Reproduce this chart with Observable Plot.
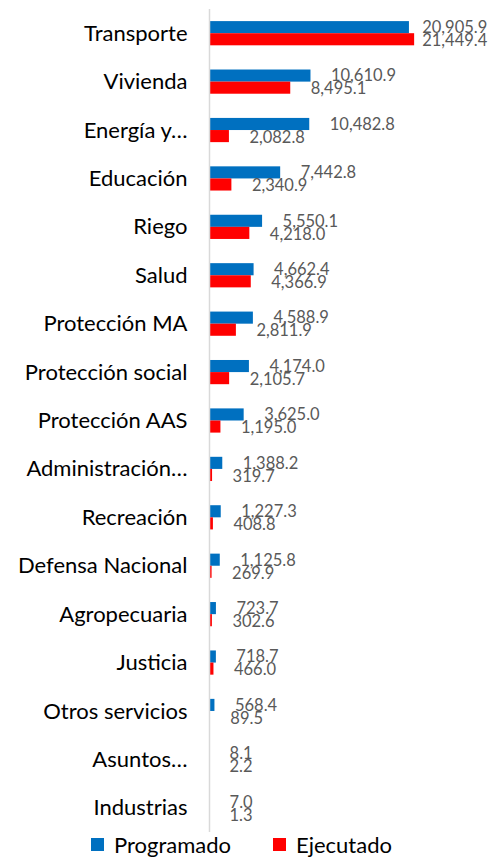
<!DOCTYPE html>
<html><head><meta charset="utf-8">
<script src="https://cdn.jsdelivr.net/npm/d3@7"></script>
<script src="https://cdn.jsdelivr.net/npm/@observablehq/plot@0.6"></script>
<style>
body{margin:0;background:#fff;font-family:Lato,"Open Sans",sans-serif}
#legend{position:relative;height:25px;font-size:22px;color:#000}
#legend .sw{display:inline-block;width:13px;height:13px;margin-right:10px}
#legend .item{display:flex;align-items:center;position:absolute;top:0;height:25px}
</style>
</head><body>
<div id="chart"></div>
<div id="legend"></div>
<script>
const categories = ["Transporte","Vivienda","Energía y…","Educación","Riego","Salud","Protección MA","Protección social","Protección AAS","Administración…","Recreación","Defensa Nacional","Agropecuaria","Justicia","Otros servicios","Asuntos…","Industrias"];
const programado = [20905.9,10610.9,10482.8,7442.8,5550.1,4662.4,4588.9,4174.0,3625.0,1388.2,1227.3,1125.8,723.7,718.7,568.4,8.1,7.0];
const ejecutado = [21449.4,8495.1,2082.8,2340.9,4218.0,4366.9,2811.9,2105.7,1195.0,319.7,408.8,269.9,302.6,466.0,89.5,2.2,1.3];
const seriesNames = ["Programado","Ejecutado"];
const colors = ["#0070C0","#FF0000"];

const data = categories.map((c,i)=>({cat:c, prog:programado[i], ejec:ejecutado[i]}));
const fmt = d3.format(",.1f");
const labelMax = 20150;

const plot = Plot.plot({
  width:494, height:832,
  marginLeft:209, marginRight:0, marginTop:9, marginBottom:0,
  x:{domain:[0,29800], axis:null},
  y:{domain:categories, paddingInner:0.5, paddingOuter:0.25, round:false, label:null, tickSize:0, tickPadding:22},
  style:{fontFamily:"Lato, 'Open Sans', sans-serif", fontSize:"22px", background:"#fff", color:"#000"},
  marks:[
    Plot.barX(data,{x:"prog", y:"cat", fill:colors[0], insetBottom:12.1}),
    Plot.barX(data,{x:"ejec", y:"cat", fill:colors[1], insetTop:12.1}),
    Plot.ruleX([0],{stroke:"#d9d9d9", strokeWidth:1.5}),
    Plot.text(data,{x:d=>Math.min(d.prog,labelMax), y:"cat", text:d=>fmt(d.prog), textAnchor:"start", dx:20, dy:-6, fill:"#595959", fontSize:16.5}),
    Plot.text(data,{x:d=>Math.min(d.ejec,labelMax), y:"cat", text:d=>fmt(d.ejec), textAnchor:"start", dx:20, dy:7, fill:"#595959", fontSize:16.5})
  ]
});
document.getElementById("chart").appendChild(plot);

const legend = document.getElementById("legend");
const lefts = [91, 273];
seriesNames.forEach((s,i)=>{
  const it = document.createElement("div");
  it.className = "item";
  it.style.left = lefts[i] + "px";
  it.innerHTML = `<span class="sw" style="background:${colors[i]}"></span><span>${s}</span>`;
  legend.appendChild(it);
});
</script>
</body></html>
